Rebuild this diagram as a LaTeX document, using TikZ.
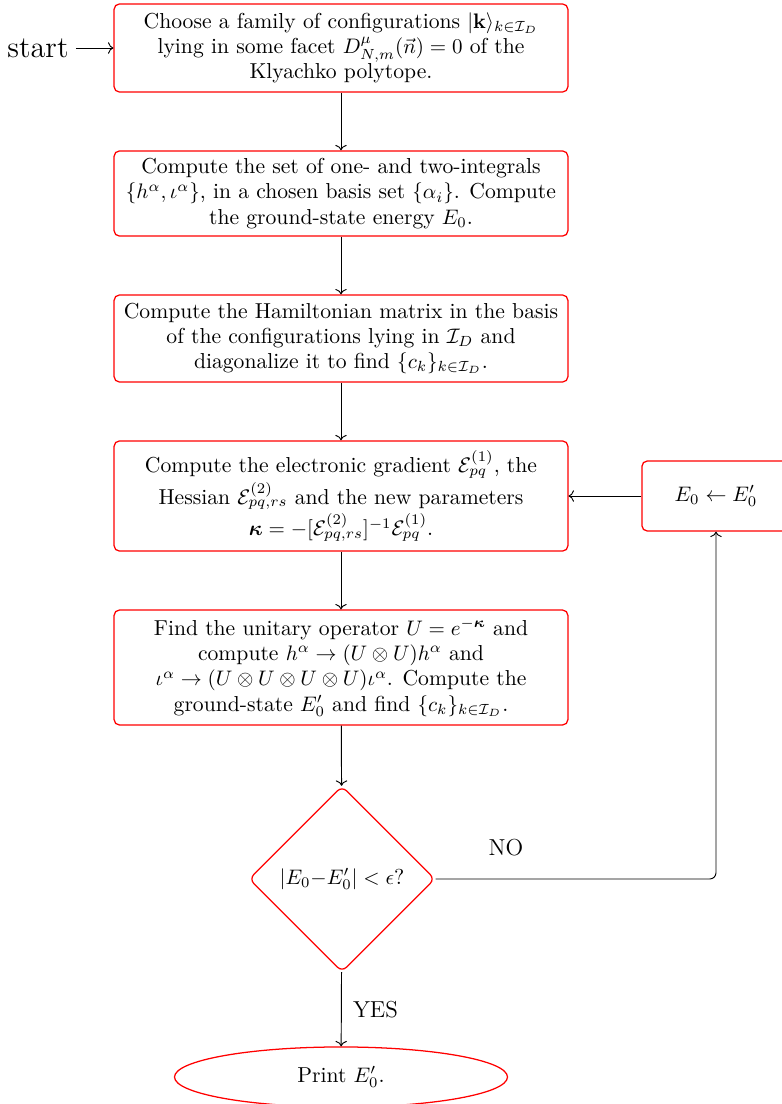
\documentclass[tikz,border=0pt]{standalone}
\usepackage{amsmath,amssymb,bm}
\usetikzlibrary{shapes.geometric,arrows.meta}
\begin{document}
\begin{tikzpicture}[x=0.476pt,y=-0.476pt,
  every node/.style={font=\fontsize{10.3}{12}\selectfont},
  box/.style={draw=red, line width=0.6pt, rounded corners=2.5pt, align=center, minimum width=216pt, inner sep=2pt},
  dec/.style={draw=red, line width=0.6pt, diamond, aspect=1, rounded corners=3pt, minimum width=88.5pt, minimum height=88.5pt, inner sep=0pt},
  term/.style={draw=red, line width=0.6pt, ellipse, minimum width=158.5pt, minimum height=28.6pt, inner sep=0pt},
  arr/.style={->, line width=0.45pt},
  lbl/.style={font=\fontsize{11}{13}\selectfont}]
\useasboundingbox (0,0) rectangle (781,1104);
\node[font=\Large] (start) at (38,48) {start};
\node[box, minimum height=41.9pt] (b1) at (341,48) {Choose a family of configurations $|\mathbf{k}\rangle_{k\in\mathcal{I}_D}$\\ lying in some facet $D^{\mu}_{N,m}(\vec{n})=0$ of the\\ Klyachko polytope.};
\node[box, minimum height=40.5pt] (b2) at (341,193.5) {Compute the set of one- and two-integrals\\ $\{h^{\alpha},\iota^{\alpha}\}$, in a chosen basis set $\{\alpha_i\}$. Compute\\ the ground-state energy $E_0$.};
\node[box, minimum height=41.4pt] (b3) at (341,338.5) {Compute the Hamiltonian matrix in the basis\\ of the configurations lying in $\mathcal{I}_D$ and\\ diagonalize it to find $\{c_k\}_{k\in\mathcal{I}_D}$.};
\node[box, minimum height=52.4pt] (b4) at (341,496) {Compute the electronic gradient $\mathcal{E}^{(1)}_{pq}$, the\\[1pt] Hessian $\mathcal{E}^{(2)}_{pq,rs}$ and the new parameters\\[1pt] $\bm{\kappa}=-[\mathcal{E}^{(2)}_{pq,rs}]^{-1}\mathcal{E}^{(1)}_{pq}$.};
\node[box, minimum height=54.7pt] (b5) at (341,667.5) {Find the unitary operator $U=e^{-\bm{\kappa}}$ and\\ compute $h^{\alpha}\rightarrow(U\otimes U)h^{\alpha}$ and\\ $\iota^{\alpha}\rightarrow(U\otimes U\otimes U\otimes U)\iota^{\alpha}$. Compute the\\ ground-state $E_0'$ and find $\{c_k\}_{k\in\mathcal{I}_D}$.};
\node[dec] (d) at (342,879) {$|E_0{-}E_0'|<\epsilon$?};
\node[term] (p) at (341,1077) {Print $E_0'$.};
\node[box, minimum width=70.5pt, minimum height=33.3pt] (e) at (716,496) {$E_0\leftarrow E_0'$};
\draw[arr] (start) -- (b1);
\draw[arr] (b1) -- (b2);
\draw[arr] (b2) -- (b3);
\draw[arr] (b3) -- (b4);
\draw[arr] (b4) -- (b5);
\draw[arr] (b5) -- (d);
\draw[arr] (d) -- node[lbl, right=2pt] (yes) {YES} (p);
\draw[arr, rounded corners=3pt] (d.east) -| (e.south);
\node[lbl] (no) at (506,848) {NO};
\draw[arr] (e) -- (b4);
\end{tikzpicture}
\end{document}
